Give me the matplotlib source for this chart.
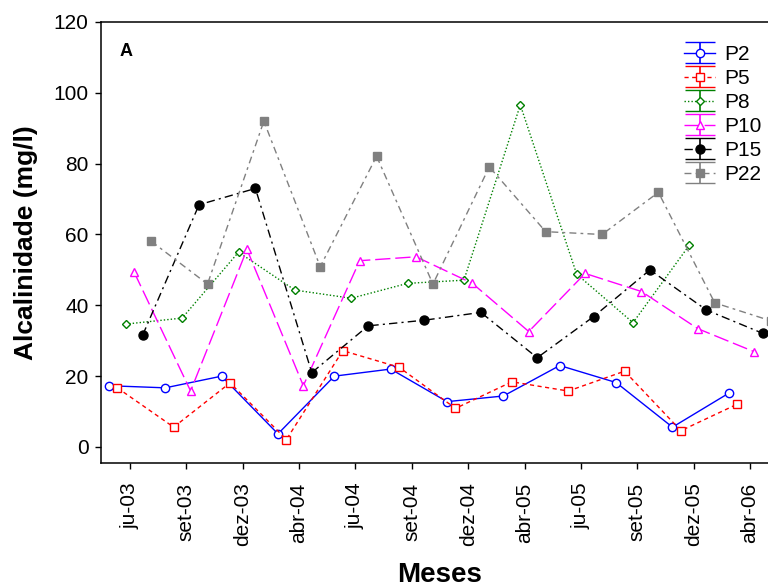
import matplotlib.pyplot as plt
import numpy as np

plt.rcParams['font.family'] = ['Liberation Sans', 'DejaVu Sans']

# meses de coleta
meses = ['ju-03', 'set-03', 'dez-03', 'abr-04', 'ju-04', 'set-04',
         'dez-04', 'abr-05', 'ju-05', 'set-05', 'dez-05', 'abr-06']

# alcalinidade (mg/l) por ponto
p2 = [17.3, 16.7, 20.0, 3.7, 20.0, 22.0, 12.8, 14.4, 23.0, 18.2, 5.6, 15.2]
p5 = [16.7, 5.6, 18.1, 2.1, 27.2, 22.5, 10.9, 18.4, 15.8, 21.4, 4.6, 12.1]
p8 = [34.7, 36.4, 55.0, 44.3, 42.0, 46.2, 47.1, 96.6, 48.8, 35.1, 57.0, np.nan]
p10 = [49.3, 15.8, 55.8, 17.3, 52.6, 53.7, 46.2, 32.6, 49.0, 43.9, 33.4, 26.9]
p15 = [31.6, 68.4, 73.0, 21.0, 34.2, 35.8, 38.0, 25.2, 36.8, 50.0, 38.7, 32.1]
p22 = [58.1, 46.0, 92.0, 50.9, 82.1, 46.0, 79.1, 60.8, 60.0, 71.9, 40.7, 35.6]

nomes = ['P2', 'P5', 'P8', 'P10', 'P15', 'P22']
valores = [p2, p5, p8, p10, p15, p22]

# estilo de cada serie: cor, marcador, tamanho, preenchimento, tracejado
cores = ['#0000ff', '#ff0000', '#008000', '#ff00ff', '#000000', '#808080']
marcadores = ['o', 's', 'D', '^', 'o', 's']
tamanhos = [6, 6, 4, 6, 6.5, 6]
preench = ['white', 'white', 'white', 'white', '#000000', '#808080']
estilos = ['-', (0, (3, 2.5)), (0, (1, 1.5)), (0, (11, 3.5)),
           (0, (6, 3, 1.5, 3)), (0, (5, 3, 2, 3))]

fig = plt.figure(figsize=(7.68, 5.88), dpi=100)
ax = fig.add_axes([0.1315, 0.2126, 0.8685, 0.75])

x = np.arange(len(meses))
handles = []
for i in range(len(nomes)):
    desloc = (i - 2.5) * 0.15
    ax.plot(x + desloc, valores[i], color=cores[i], linestyle=estilos[i], lw=1.0,
            marker=marcadores[i], ms=tamanhos[i], mfc=preench[i], mec=cores[i], mew=1.0)
    # proxy so the legend shows the errorbar style
    h = ax.errorbar([np.nan], [np.nan], yerr=[1], color=cores[i], linestyle=estilos[i],
                    lw=1.0, marker=marcadores[i], ms=tamanhos[i], mfc=preench[i],
                    mec=cores[i], mew=1.0, capsize=11, capthick=1.2, elinewidth=1.2,
                    label=nomes[i])
    handles.append(h)

ax.set_xlim(-0.515, 11.32)
ax.set_ylim(-4.52, 120)
ax.set_xticks(x)
ax.set_xticklabels(meses, rotation=90)
ax.set_yticks(np.arange(0, 121, 20))

ax.spines['right'].set_visible(False)
for s in ['left', 'bottom', 'top']:
    ax.spines[s].set_linewidth(1.1)
ax.tick_params(axis='y', direction='out', length=4, width=1.0, pad=5, labelsize=15)
ax.tick_params(axis='x', direction='out', length=4, width=1.0, pad=10, labelsize=15)

ax.set_ylabel('Alcalinidade (mg/l)', fontsize=19, fontweight='bold')
ax.yaxis.set_label_coords(-0.0945, 0.5)
ax.set_xlabel('Meses', fontsize=20, fontweight='bold')
ax.xaxis.set_label_coords(0.508, -0.2245)

fig.text(120 / 768, 1 - 52 / 588, 'A', fontsize=13, fontweight='bold',
         ha='left', va='center')

ax.legend(handles=handles, loc='upper left', bbox_to_anchor=(0.874, 0.948),
          frameon=False, fontsize=15, handlelength=1.5, handletextpad=0.45,
          labelspacing=0.24, borderpad=0, borderaxespad=0, numpoints=1)

fig.savefig('out.png', dpi=100)
